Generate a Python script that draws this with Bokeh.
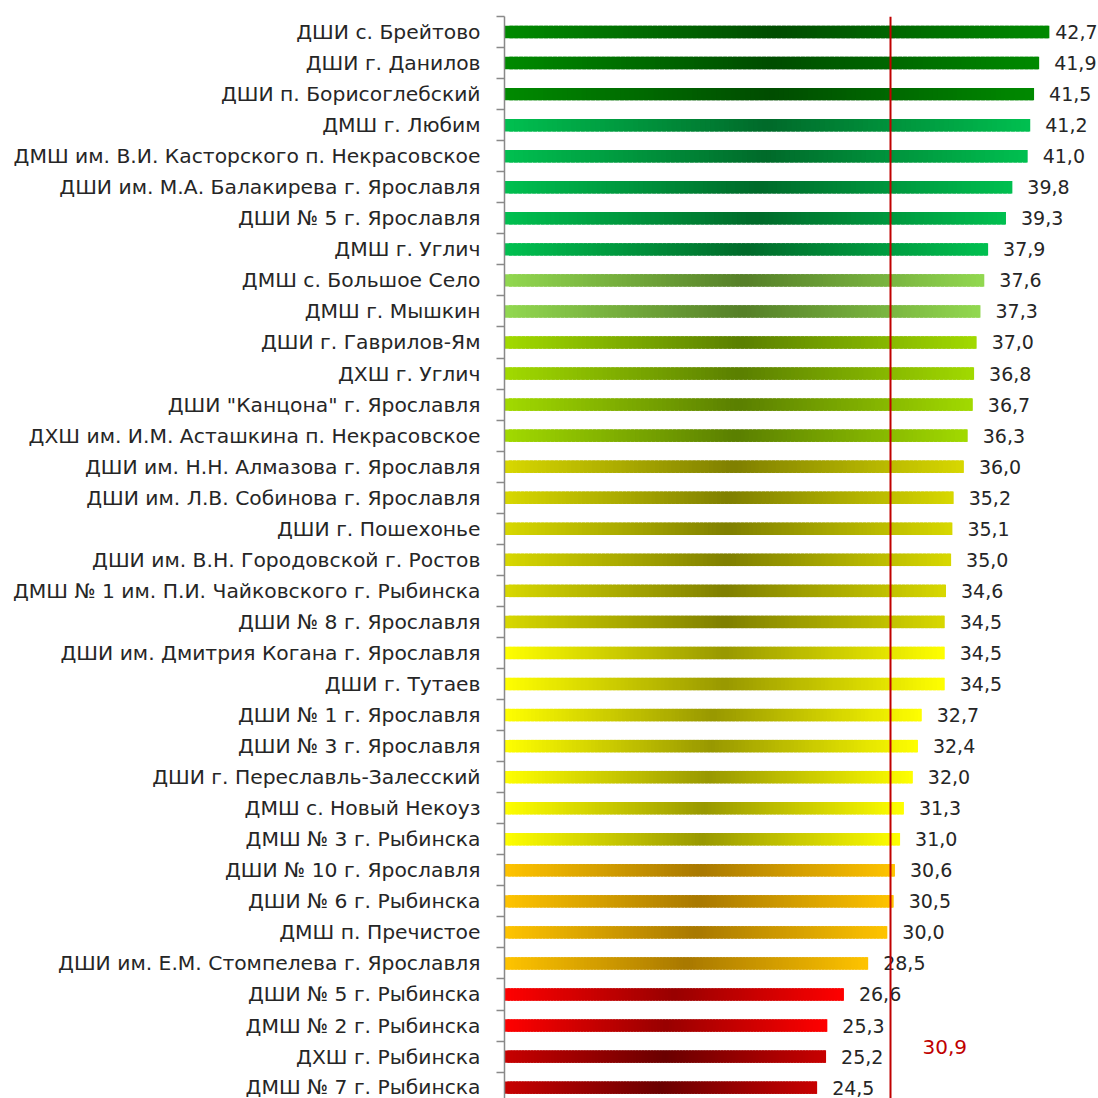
from bokeh.plotting import figure
from bokeh.models import Range1d, FixedTicker, Span, Label, ColumnDataSource
from bokeh.core.properties import value
from bokeh.embed import file_html
from bokeh.resources import INLINE

# ---------------- data ----------------
schools = [
    "ДШИ с. Брейтово",
    "ДШИ г. Данилов",
    "ДШИ п. Борисоглебский",
    "ДМШ г. Любим",
    "ДМШ им. В.И. Касторского п. Некрасовское",
    "ДШИ им. М.А. Балакирева г. Ярославля",
    "ДШИ № 5 г. Ярославля",
    "ДМШ г. Углич",
    "ДМШ с. Большое Село",
    "ДМШ г. Мышкин",
    "ДШИ г. Гаврилов-Ям",
    "ДХШ г. Углич",
    "ДШИ \"Канцона\" г. Ярославля",
    "ДХШ им. И.М. Асташкина п. Некрасовское",
    "ДШИ им. Н.Н. Алмазова г. Ярославля",
    "ДШИ им. Л.В. Собинова г. Ярославля",
    "ДШИ г. Пошехонье",
    "ДШИ им. В.Н. Городовской г. Ростов",
    "ДМШ № 1 им. П.И. Чайковского г. Рыбинска",
    "ДШИ № 8 г. Ярославля",
    "ДШИ им. Дмитрия Когана г. Ярославля",
    "ДШИ г. Тутаев",
    "ДШИ № 1 г. Ярославля",
    "ДШИ № 3 г. Ярославля",
    "ДШИ г. Переславль-Залесский",
    "ДМШ с. Новый Некоуз",
    "ДМШ № 3 г. Рыбинска",
    "ДШИ № 10 г. Ярославля",
    "ДШИ № 6 г. Рыбинска",
    "ДМШ п. Пречистое",
    "ДШИ им. Е.М. Стомпелева г. Ярославля",
    "ДШИ № 5 г. Рыбинска",
    "ДМШ № 2 г. Рыбинска",
    "ДХШ г. Рыбинска",
    "ДМШ № 7 г. Рыбинска",
]
scores = [42.7, 41.9, 41.5, 41.2, 41.0, 39.8, 39.3, 37.9, 37.6, 37.3,
          37.0, 36.8, 36.7, 36.3, 36.0, 35.2, 35.1, 35.0, 34.6, 34.5,
          34.5, 34.5, 32.7, 32.4, 32.0, 31.3, 31.0, 30.6, 30.5, 30.0,
          28.5, 26.6, 25.3, 25.2, 24.5]

# colour groups (number of consecutive bars in each)
group_sizes = [3, 5, 2, 4, 6, 7, 4, 2, 2]
group_edge = ["#008A00", "#00C050", "#92D850", "#A2DA00", "#D8D800",
              "#FFFF00", "#FFC400", "#FF0000", "#C80000"]
group_mid = ["#004C00", "#006A2A", "#557F28", "#5A7F00", "#7F7F00",
             "#989800", "#A87800", "#980000", "#6A0000"]

ref_label = "30,9"
ref_line_x = 30.25

# ---------------- layout ----------------
W, H = 1098, 1098
border_left, border_top = 504, 16
x_end = 46.55
y_start = 34.35
font = "DejaVu Sans"
txt_color = "#262626"
axis_gray = "#898989"


def hex2rgb(h):
    h = h.lstrip("#")
    return tuple(int(h[i:i + 2], 16) for i in (0, 2, 4))


def mix(c1, c2, t):
    a, b = hex2rgb(c1), hex2rgb(c2)
    return "#%02x%02x%02x" % tuple(int(round(a[k] + (b[k] - a[k]) * t)) for k in range(3))


bar_group = []
for g, n in enumerate(group_sizes):
    bar_group += [g] * n

p = figure(width=W, height=H, output_backend="svg", toolbar_location=None,
           x_range=Range1d(0, x_end), y_range=Range1d(y_start, -0.5),
           min_border_left=border_left, min_border_right=0,
           min_border_top=border_top, min_border_bottom=0,
           x_axis_location=None)
p.outline_line_color = None
p.xgrid.visible = False
p.ygrid.visible = False
p.background_fill_color = "white"
p.border_fill_color = "white"

# gradient bars built from thin, slightly overlapping slices
n_sl = 110
sl = dict(y=[], left=[], right=[], color=[])
for i, (v, g) in enumerate(zip(scores, bar_group)):
    for k in range(n_sl):
        t = (k + 0.5) / n_sl
        d = 1 - abs(2 * t - 1)
        sl["y"].append(i)
        sl["left"].append(v * k / n_sl)
        sl["right"].append(min(v, v * (k + 1.8) / n_sl))
        sl["color"].append(mix(group_edge[g], group_mid[g], d))
p.hbar(y="y", left="left", right="right", height=0.4, fill_color="color",
       line_color=None, source=ColumnDataSource(sl))

# value labels
frame_w = W - border_left
scale = frame_w / x_end
val_font_px = 19
lab_w = val_font_px * (3 * 0.636 + 0.318)
offsets = []
for v in scores:
    off = 15
    if v * scale + off + lab_w > frame_w:
        off = max(2, frame_w - v * scale - lab_w - 1)
    offsets.append(off)
vals = dict(x=scores, y=list(range(len(scores))),
            t=[f"{v:.1f}".replace(".", ",") for v in scores], off=offsets)
p.text(x="x", y="y", text="t", x_offset="off",
       source=ColumnDataSource(vals),
       text_align="left", text_baseline="middle", text_font=value(font),
       text_font_size=f"{val_font_px}px", text_color=txt_color)

# y axis
ax = p.yaxis[0]
ax.ticker = FixedTicker(ticks=list(range(len(schools))),
                        minor_ticks=[i - 0.5 for i in range(len(schools) + 1)])
ax.major_label_overrides = {i: s for i, s in enumerate(schools)}
ax.major_tick_in = 0
ax.major_tick_out = 0
ax.major_tick_line_color = None
ax.minor_tick_in = 0
ax.minor_tick_out = 8
ax.minor_tick_line_color = axis_gray
ax.minor_tick_line_width = 1.5
ax.axis_line_color = axis_gray
ax.axis_line_width = 1.5
ax.major_label_standoff = 16
ax.major_label_text_font = font
ax.major_label_text_font_size = "20.3px"
ax.major_label_text_color = txt_color

# reference line
p.add_layout(Span(location=ref_line_x, dimension="height",
                  line_color="#C00000", line_width=2))
p.add_layout(Label(x=ref_line_x, y=32.7, x_offset=32, text=ref_label,
                   text_color="#C00000", text_font=font, text_font_size="20px",
                   text_baseline="middle"))

open("out.html", "w").write(file_html(p, INLINE))
